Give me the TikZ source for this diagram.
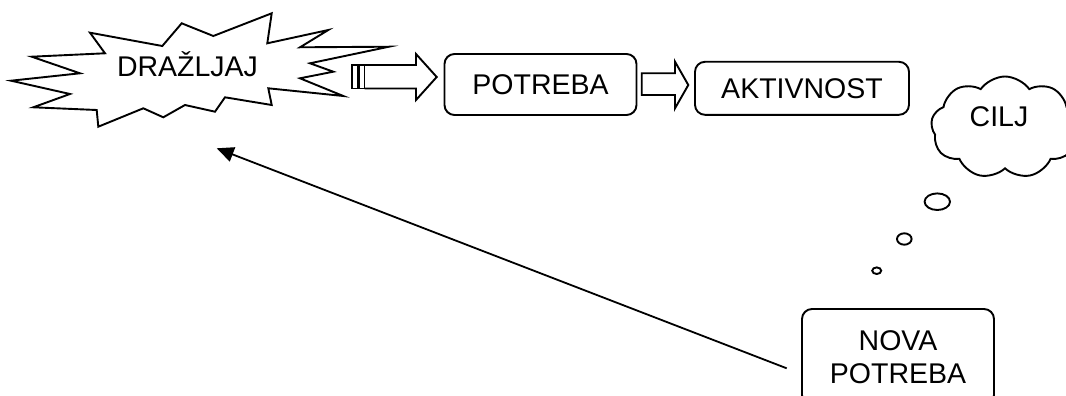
\documentclass[tikz,border=0pt]{standalone}
\usepackage{fontspec}
\setmainfont{Liberation Sans}
\usepackage{tikz}
\usetikzlibrary{shapes.symbols}
\usetikzlibrary{arrows.meta,positioning}

\tikzset{
  box/.style={draw,rounded corners=10pt,line width=1.9pt,inner sep=0pt,align=center},
  outline/.style={draw,line width=1.9pt},
  txt/.style={font=\fontsize{28.5}{33}\selectfont}
}

\begin{document}
\begin{tikzpicture}[x=1pt,y=-1pt,txt]
	\useasboundingbox (0,0) rectangle (1066,396);
	\clip (0,0) rectangle (1066,396);
	% starburst
	\draw[outline,line join=miter] (11,80.7) -- (80,73.3) -- (31.7,56.7) -- (105,53.3) -- (90,32.7) -- (162.3,46) -- (181.7,23.3) -- (213.3,36) -- (271.7,13.3) -- (267.3,43.3) -- (328.3,30) -- (300,47.3) -- (389,46.7) -- (310,63.3) -- (333.3,71.7) -- (300,78.3) -- (343.3,96) -- (268.3,88.3) -- (271.7,105) -- (225,97.3) -- (215,111.7) -- (185,105) -- (163.3,117.3) -- (143.3,108.3) -- (98.3,126.7) -- (96.7,110) -- (33.3,107.3) -- (70,94) -- cycle;
	\node[anchor=base] (drazljaj) at (187.5,76.7) {DRAŽLJAJ};
	% striped arrow
	\draw[outline] (352,65) rectangle (357.5,88.5);
	\draw[outline] (359,65) rectangle (364.5,88.5);
	\draw[outline] (364.5,65) -- (416,65) -- (416,54) -- (436.7,77) -- (416,100) -- (416,88.5) -- (364.5,88.5);
	% boxes
	\node[box,minimum width=192pt,minimum height=61pt] (potreba) at (540.5,84.5) {POTREBA};
	\node[box,minimum width=214pt,minimum height=53pt] (aktivnost) at (802,88.3) {AKTIVNOST};
	\draw[outline] (641.7,73.3) -- (675,73.3) -- (675,61.7) -- (688.3,85) -- (675,108.3) -- (675,95) -- (641.7,95) -- cycle;
	% goal
	\node[cloud,draw,line width=1.9pt,cloud puffs=9,cloud puff arc=110,cloud ignores aspect,minimum width=148pt,minimum height=102pt] (cilj) at (1005,127.5) {};
	\node[anchor=base] (ciljtxt) at (999,126.7) {CILJ};
	\draw[line width=1.9pt] (937.3,201.7) ellipse [x radius=12.7,y radius=8.3];
	\draw[line width=1.9pt] (904.3,239) ellipse [x radius=7.3,y radius=5.7];
	\draw[line width=1.9pt] (876.7,270.7) ellipse [x radius=4.5,y radius=3.3];
	% new need
	\node[box,minimum width=192pt,minimum height=96pt] (nova) at (898,357) {NOVA\\POTREBA};
	\coordinate (novastart) at (786.7,368.3);
	\coordinate (drazljajend) at (216.7,148.3);
	\draw[line width=1.8pt,-{Triangle[length=17pt,width=15pt]}] (novastart) -- (drazljajend);
\end{tikzpicture}
\end{document}
